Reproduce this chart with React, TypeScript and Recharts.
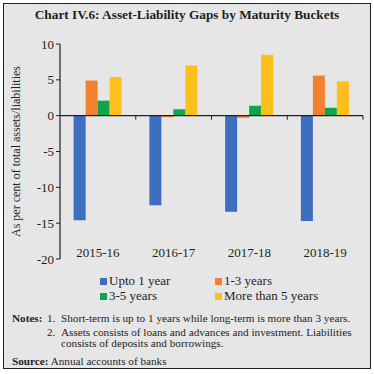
import React from "react";
import {
  Bar,
  BarChart,
  Label,
  ReferenceLine,
  XAxis,
  YAxis,
} from "recharts";

const categories = ["2015-16", "2016-17", "2017-18", "2018-19"];
const upto1Year = [-14.6, -12.5, -13.4, -14.7];
const years1to3 = [4.9, -0.2, -0.3, 5.6];
const years3to5 = [2.1, 0.9, 1.4, 1.1];
const moreThan5 = [5.4, 7.0, 8.5, 4.8];
const yTicks = [10, 5, 0, -5, -10, -15, -20];

const seriesNames = ["Upto 1 year", "1-3 years", "3-5 years", "More than 5 years"];
const seriesKeys = ["upto1", "y1to3", "y3to5", "over5"];
const seriesColors = ["#3d6fbe", "#f2812f", "#10a44f", "#fdc01b"];

const data = categories.map((label, i) => ({
  label,
  upto1: upto1Year[i],
  y1to3: years1to3[i],
  y3to5: years3to5[i],
  over5: moreThan5[i],
}));

const SERIF = "'Liberation Serif', 'DejaVu Serif', serif";
const INK = "#231f20";

// zero line with little tick marks at the category boundaries
function ZeroLine(props: any) {
  const { x1, x2, y1 } = props;
  const n = categories.length;
  const step = (x2 - x1) / n;
  return (
    <g>
      <line x1={x1} x2={x2} y1={y1} y2={y1} stroke={INK} strokeWidth={1.2} />
      {categories.map((_, i) => (
        <line
          key={i}
          x1={x1 + step * (i + 1)}
          x2={x1 + step * (i + 1)}
          y1={y1}
          y2={y1 + 4}
          stroke={INK}
          strokeWidth={1}
        />
      ))}
    </g>
  );
}

function CategoryTick({ x, y, payload }: any) {
  return (
    <text
      x={x}
      y={y}
      dy={-10}
      textAnchor="middle"
      fontFamily={SERIF}
      fontSize={13}
      fill={INK}
    >
      {payload.value}
    </text>
  );
}

export default function App() {
  return (
    <div
      style={{
        position: "absolute",
        left: 0,
        top: 0,
        width: 374,
        height: 374,
        background: "#fff",
        fontFamily: SERIF,
        color: INK,
      }}
    >
      <div
        style={{
          position: "absolute",
          left: 3,
          top: 3,
          width: 366,
          height: 364,
          border: `1.5px solid ${INK}`,
          background: "#e6e6e7",
        }}
      />
      <div
        style={{
          position: "absolute",
          left: 0,
          width: 374,
          top: 7,
          textAlign: "center",
          fontWeight: "bold",
          fontSize: 13.3,
        }}
      >
        Chart IV.6: Asset-Liability Gaps by Maturity Buckets
      </div>

      <div style={{ position: "absolute", left: 0, top: 0 }}>
        <BarChart
          width={374}
          height={290}
          data={data}
          margin={{ top: 44, right: 11, left: 0, bottom: 11 }}
          barCategoryGap="18%"
          barGap={0}
        >
          <XAxis
            dataKey="label"
            axisLine={false}
            tickLine={false}
            height={20}
            tick={<CategoryTick />}
            interval={0}
          />
          <YAxis
            width={60}
            domain={[-20, 10]}
            ticks={yTicks}
            interval={0}
            tickSize={4}
            axisLine={{ stroke: INK, strokeWidth: 1.2 }}
            tickLine={{ stroke: INK }}
            tick={{ fill: INK, fontSize: 13, fontFamily: SERIF }}
          >
            <Label
              content={({ viewBox }: any) => {
                const cx = viewBox.x + 16;
                const cy = viewBox.y + viewBox.height / 2;
                return (
                  <text
                    x={cx}
                    y={cy}
                    transform={`rotate(-90 ${cx} ${cy})`}
                    textAnchor="middle"
                    dominantBaseline="central"
                    fontFamily={SERIF}
                    fontSize={12}
                    fill={INK}
                  >
                    As per cent of total assets/liabilities
                  </text>
                );
              }}
            />
          </YAxis>
          {seriesKeys.map((k, i) => (
            <Bar
              key={k}
              dataKey={k}
              name={seriesNames[i]}
              fill={seriesColors[i]}
              isAnimationActive={false}
            />
          ))}
          <ReferenceLine y={0} shape={<ZeroLine />} />
        </BarChart>
      </div>

      {/* legend, two columns */}
      {seriesNames.map((name, i) => (
        <div
          key={name}
          style={{
            position: "absolute",
            left: i % 2 === 0 ? 100 : 215,
            top: i < 2 ? 274 : 289,
            display: "flex",
            alignItems: "center",
            fontSize: 13,
            lineHeight: "14px",
          }}
        >
          <span
            style={{
              display: "inline-block",
              width: 7,
              height: 7,
              background: seriesColors[i],
              marginRight: 2,
            }}
          />
          {name}
        </div>
      ))}

      <div
        style={{
          position: "absolute",
          left: 12,
          top: 313,
          width: 354,
          fontSize: 11.2,
          lineHeight: "10.5px",
        }}
      >
        <div style={{ display: "flex", marginBottom: 3.5 }}>
          <span style={{ fontWeight: "bold", width: 35 }}>Notes:</span>
          <span style={{ width: 14 }}>1.</span>
          <span>Short-term is up to 1 years while long-term is more than 3 years.</span>
        </div>
        <div style={{ display: "flex" }}>
          <span style={{ width: 35, flexShrink: 0 }} />
          <span style={{ width: 14, flexShrink: 0 }}>2.</span>
          <span style={{ flex: 1 }}>
            Assets consists of loans and advances and investment. Liabilities
            consists of deposits and borrowings.
          </span>
        </div>
        <div style={{ marginTop: 8 }}>
          <span style={{ fontWeight: "bold" }}>Source:</span> Annual accounts of banks
        </div>
      </div>
    </div>
  );
}
